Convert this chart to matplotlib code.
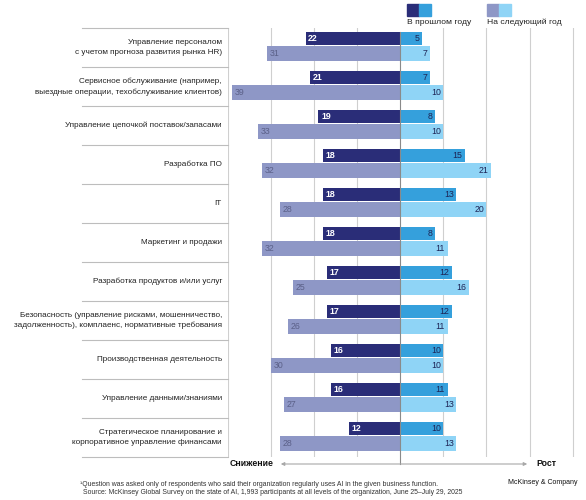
import matplotlib.pyplot as plt
from matplotlib.patches import Rectangle, FancyArrowPatch

plt.rcParams['font.family'] = ['Liberation Sans', 'DejaVu Sans']

categories = [
    "Управление персоналом\nс учетом прогноза развития рынка HR)",
    "Сервисное обслуживание (например,\nвыездные операции, техобслуживание клиентов)",
    "Управление цепочкой поставок/запасами",
    "Разработка ПО",
    "IT",
    "Маркетинг и продажи",
    "Разработка продуктов и/или услуг",
    "Безопасность (управление рисками, мошенничество,\nзадолженность), комплаенс, нормативные требования",
    "Производственная деятельность",
    "Управление данными/знаниями",
    "Стратегическое планирование и\nкорпоративное управление финансами",
]
past_down = [22, 21, 19, 18, 18, 18, 17, 17, 16, 16, 12]
past_up = [5, 7, 8, 15, 13, 8, 12, 12, 10, 11, 10]
next_down = [31, 39, 33, 32, 28, 32, 25, 26, 30, 27, 28]
next_up = [7, 10, 10, 21, 20, 11, 16, 11, 10, 13, 13]
grid_ticks = [-40, -30, -20, -10, 10, 20, 30, 40]

navy = '#2a2d78'
blue = '#35a0dc'
lilac = '#8e97c6'
sky = '#8fd4f6'

fig = plt.figure(figsize=(5.86, 5.0), dpi=100)
ax = fig.add_axes([228 / 586, 43 / 500, 358 / 586, 429 / 500])
ax.set_xlim(-40, 43.1)
ax.set_ylim(len(categories), 0)
ax.axis('off')

# сетка
for t in grid_ticks:
    ax.axvline(t, color='#cfcfcf', lw=0.8, zorder=0)
ax.axvline(0, ymin=-0.017, ymax=0.99, color='#8a8a8a', lw=0.8, zorder=3, clip_on=False)

n = len(categories)
yp = [i + 0.27 for i in range(n)]
yn = [i + 0.655 for i in range(n)]
hp, hn = 0.34, 0.38

ax.barh(yp, [-v for v in past_down], height=hp, color=navy, zorder=2)
ax.barh(yp, past_up, height=hp, color=blue, zorder=2)
ax.barh(yn, [-v for v in next_down], height=hn, color=lilac, zorder=2)
ax.barh(yn, next_up, height=hn, color=sky, zorder=2)

fs = 6.3
for i in range(n):
    ax.text(-past_down[i] + 0.6, yp[i], str(past_down[i]), color='white', fontsize=fs,
            fontweight='bold', ha='left', va='center', zorder=4)
    ax.text(past_up[i] - 0.6, yp[i], str(past_up[i]), color='#1d2455', fontsize=fs,
            ha='right', va='center', zorder=4)
    ax.text(-next_down[i] + 0.6, yn[i], str(next_down[i]), color='#5b6088', fontsize=fs,
            ha='left', va='center', zorder=4)
    ax.text(next_up[i] - 0.6, yn[i], str(next_up[i]), color='#1d2455', fontsize=fs,
            ha='right', va='center', zorder=4)
    # подписи категорий
    ax.text(-41.4, i + 0.5, categories[i], ha='right', va='center', fontsize=5.85,
            color='#222222', linespacing=1.6, clip_on=False)

# разделители категорий
for i in range(n + 1):
    ax.plot([-74, -40], [i, i], color='#bdbdbd', lw=0.8, clip_on=False)

# легенда
def legend_item(x, c1, c2, label):
    fig.patches.append(Rectangle((x / 586, 1 - 16 / 500), 12 / 586, 12 / 500,
                                 transform=fig.transFigure, color=c1))
    fig.patches.append(Rectangle(((x + 12) / 586, 1 - 16 / 500), 12 / 586, 12 / 500,
                                 transform=fig.transFigure, color=c2))
    fig.text(x / 586, 1 - 22 / 500, label, fontsize=6.1, color='#222222', va='center')

legend_item(407, navy, blue, 'В прошлом году')
legend_item(487, lilac, sky, 'На следующий год')

# стрелка снижение / рост
arr = FancyArrowPatch((278 / 586, 1 - 464 / 500), (530 / 586, 1 - 464 / 500),
                      transform=fig.transFigure, arrowstyle='<|-|>', mutation_scale=5,
                      color='#a8a8a8', lw=0.8)
fig.patches.append(arr)
fig.text(273 / 586, 1 - 464 / 500, 'Снижение', ha='right', va='center', fontsize=6.3,
         fontweight='bold', color='#111111')
fig.text(536 / 586, 1 - 464 / 500, 'Рост', ha='left', va='center', fontsize=6.3,
         fontweight='bold', color='#111111')

# сноски
fig.text(80 / 586, 1 - 484 / 500,
         '¹Question was asked only of respondents who said their organization regularly uses AI in the given business function.',
         fontsize=4.95, color='#333333', va='center')
fig.text(83 / 586, 1 - 493 / 500,
         'Source: McKinsey Global Survey on the state of AI, 1,993 participants at all levels of the organization, June 25–July 29, 2025',
         fontsize=4.95, color='#333333', va='center')
fig.text(577 / 586, 1 - 483 / 500, 'McKinsey & Company', ha='right', va='center',
         fontsize=5, color='#111111')

fig.savefig('out.png', dpi=100)
